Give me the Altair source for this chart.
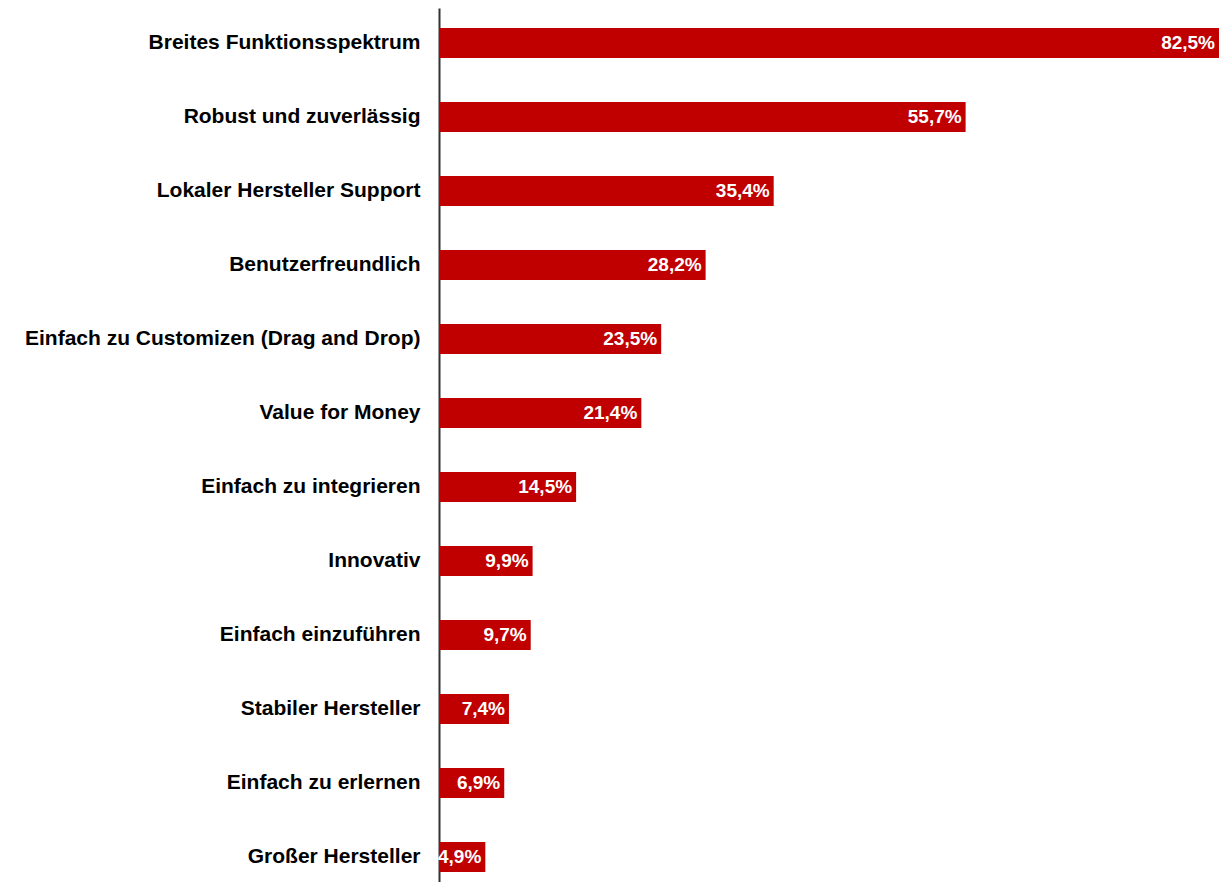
import altair as alt
import pandas as pd

categories = [
    "Breites Funktionsspektrum",
    "Robust und zuverlässig",
    "Lokaler Hersteller Support",
    "Benutzerfreundlich",
    "Einfach zu Customizen (Drag and Drop)",
    "Value for Money",
    "Einfach zu integrieren",
    "Innovativ",
    "Einfach einzuführen",
    "Stabiler Hersteller",
    "Einfach zu erlernen",
    "Großer Hersteller",
]
values = [82.5, 55.7, 35.4, 28.2, 23.5, 21.4, 14.5, 9.9, 9.7, 7.4, 6.9, 4.9]

df = pd.DataFrame({"cat": categories, "val": values})
df["label"] = [f"{v:.1f}".replace(".", ",") + "%" for v in values]

FONT = "Liberation Sans"

y_enc = alt.Y(
    "cat:N",
    sort=None,
    title=None,
    scale=alt.Scale(paddingInner=0.595, paddingOuter=0.2025, align=0.667),
    axis=alt.Axis(
        ticks=False,
        labelFont=FONT,
        labelFontSize=21,
        labelFontWeight="bold",
        labelColor="#000000",
        labelPadding=19,
        labelLimit=600,
        domainColor="#333333",
        domainWidth=2,
        grid=False,
    ),
)
x_enc = alt.X(
    "val:Q",
    title=None,
    scale=alt.Scale(domain=[0, 82.5], nice=False, zero=True),
    axis=None,
)

bars = alt.Chart(df).mark_bar(color="#C00000").encode(x=x_enc, y=y_enc)
text = alt.Chart(df).mark_text(
    align="right", baseline="middle", dx=-4, color="white",
    font=FONT, fontSize=19, fontWeight="bold",
).encode(x=x_enc, y=y_enc, text="label:N")

chart = (bars + text).properties(
    width=780,
    height=874,
    autosize=alt.AutoSizeParams(type="none"),
    padding={"left": 431, "top": 0, "right": 0, "bottom": 0},
).configure(background="white", view=alt.ViewConfig(stroke=None))

chart.save("out.html", embed_options={"renderer": "svg", "actions": False})
